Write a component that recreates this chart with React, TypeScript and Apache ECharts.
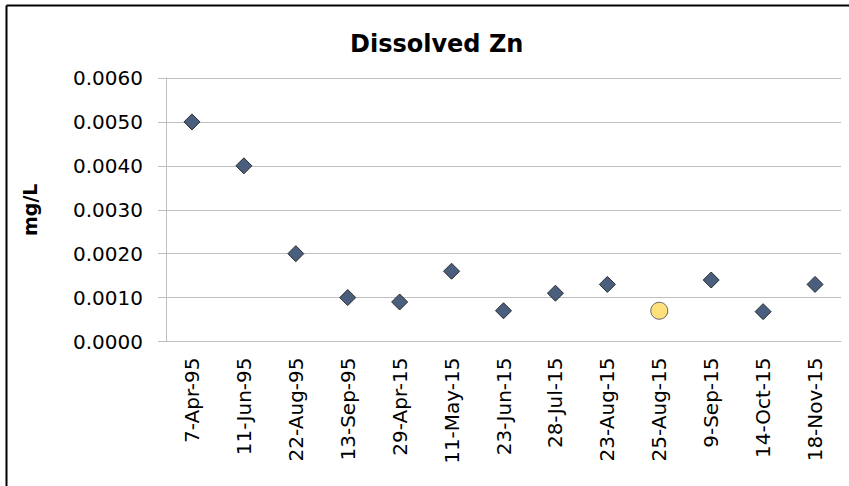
import React, { useEffect, useRef } from "react";
import * as echarts from "echarts";

const categories = [
  "7-Apr-95", "11-Jun-95", "22-Aug-95", "13-Sep-95", "29-Apr-15", "11-May-15",
  "23-Jun-15", "28-Jul-15", "23-Aug-15", "25-Aug-15", "9-Sep-15", "14-Oct-15", "18-Nov-15",
];
const values = [0.005, 0.004, 0.002, 0.001, 0.0009, 0.0016, 0.0007, 0.0011, 0.0013, 0.0007, 0.0014, 0.00068, 0.0013];
const highlightIndex = [9];
const yTicks = { min: 0, max: 0.006, interval: 0.001 };

export default function App() {
  const ref = useRef<HTMLDivElement>(null);
  useEffect(() => {
    if (!ref.current) return;
    const chart = echarts.init(ref.current, undefined, { renderer: "svg" });
    const font = "DejaVu Sans";
    const data = values.map((v, i) =>
      highlightIndex.includes(i)
        ? {
            value: v,
            symbol: "circle",
            symbolSize: 17,
            itemStyle: { color: "#FFE07A", borderColor: "#666666", borderWidth: 1 },
          }
        : { value: v }
    );
    chart.setOption({
      animation: false,
      backgroundColor: "#ffffff",
      title: {
        text: "Dissolved Zn",
        left: 345,
        top: 27,
        textStyle: { fontFamily: font, fontSize: 24, fontWeight: "bold", color: "#000000" },
      },
      grid: { left: 166, right: 8, top: 78, bottom: 144.5, containLabel: false },
      xAxis: {
        type: "category",
        data: categories,
        boundaryGap: true,
        axisLine: { show: true, lineStyle: { color: "#bfbfbf", width: 1 } },
        axisTick: { show: false },
        axisLabel: {
          rotate: 90,
          margin: 16,
          interval: 0,
          fontFamily: font,
          fontSize: 20,
          color: "#000000",
        },
        splitLine: { show: false },
      },
      yAxis: {
        type: "value",
        min: yTicks.min,
        max: yTicks.max,
        interval: yTicks.interval,
        name: "mg/L",
        nameLocation: "middle",
        nameRotate: 90,
        nameGap: 127,
        nameTextStyle: { fontFamily: font, fontSize: 19, fontWeight: "bold", color: "#000000" },
        axisLine: { show: true, lineStyle: { color: "#bfbfbf", width: 1 } },
        axisTick: { show: true, length: 8, lineStyle: { color: "#bfbfbf" } },
        axisLabel: {
          margin: 23,
          fontFamily: font,
          fontSize: 20,
          color: "#000000",
          formatter: (v: number) => v.toFixed(4),
        },
        splitLine: { show: true, lineStyle: { color: "#bfbfbf", width: 1 } },
      },
      graphic: [
        { type: "line", shape: { x1: 6.5, y1: 5.5, x2: 849, y2: 5.5 }, style: { stroke: "#000000", lineWidth: 2 } },
        { type: "line", shape: { x1: 6.5, y1: 5.5, x2: 6.5, y2: 486 }, style: { stroke: "#000000", lineWidth: 2 } },
      ],
      series: [
        {
          type: "scatter",
          data,
          symbol: "diamond",
          symbolSize: 16,
          itemStyle: { color: "#4A5F7E", borderColor: "#2b2b2b", borderWidth: 1, opacity: 1 },
        },
      ],
    });
    return () => chart.dispose();
  }, []);
  return (
    <div
      ref={ref}
      style={{ position: "absolute", left: 0, top: 0, width: 849, height: 486 }}
    />
  );
}
